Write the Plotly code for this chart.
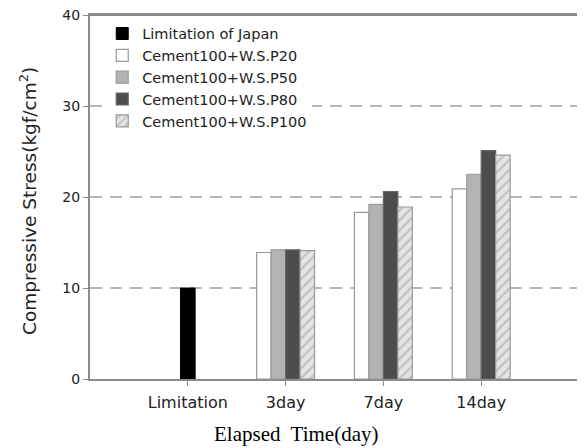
import plotly.graph_objects as go

categories = ["Limitation", "3day", "7day", "14day"]
limitation_japan = [10, None, None, None]
wsp20 = [None, 13.9, 18.3, 20.9]
wsp50 = [None, 14.2, 19.2, 22.5]
wsp80 = [None, 14.2, 20.6, 25.1]
wsp100 = [None, 14.1, 18.9, 24.6]
y_ticks = [0, 10, 20, 30, 40]

FONT = "DejaVu Sans"
W = 0.148
EDGE = "#9a9a9a"

fig = go.Figure()
fig.add_bar(x=categories, y=limitation_japan, name="Limitation of Japan",
            width=0.15, offset=-0.075,
            marker=dict(color="#000000", line=dict(color="#000000", width=1)))
fig.add_bar(x=categories, y=wsp20, name="Cement100+W.S.P20",
            width=W, offset=-2 * W,
            marker=dict(color="#ffffff", line=dict(color=EDGE, width=1.2)))
fig.add_bar(x=categories, y=wsp50, name="Cement100+W.S.P50",
            width=W, offset=-W,
            marker=dict(color="#b3b3b3", line=dict(color=EDGE, width=1.2)))
fig.add_bar(x=categories, y=wsp80, name="Cement100+W.S.P80",
            width=W, offset=0,
            marker=dict(color="#4d4d4d", line=dict(color="#666666", width=1.2)))
fig.add_bar(x=categories, y=wsp100, name="Cement100+W.S.P100",
            width=W, offset=W,
            marker=dict(color="#e0e0e0", line=dict(color=EDGE, width=1.2),
                        pattern=dict(shape="/", fgcolor="#9a9a9a", bgcolor="#e4e4e4",
                                     size=7, solidity=0.3)))

fig.update_layout(
    width=585, height=448,
    margin=dict(l=82, r=14, t=7, b=77),
    paper_bgcolor="white", plot_bgcolor="white",
    barmode="overlay",
    font=dict(family=FONT, color="#222222", size=14),
    showlegend=True,
    legend=dict(x=0.025, y=0.993, xanchor="left", yanchor="top",
                bgcolor="white", borderwidth=0,
                font=dict(family=FONT, size=14.5, color="#222222"),
                tracegroupgap=0, itemwidth=30),
    xaxis=dict(type="category", range=[-1, 4], showline=True, linecolor="#8c8c8c",
               linewidth=2, mirror=True, ticks="outside", ticklen=5, tickcolor="#8c8c8c",
               ticklabelstandoff=3, automargin=False, ticklabeloverflow="allow",
               tickfont=dict(family=FONT, size=16, color="#222222"), showgrid=False),
    yaxis=dict(range=[0, 40], tickvals=y_ticks, showline=True, linecolor="#8c8c8c",
               linewidth=2, mirror=True, ticks="outside", ticklen=5, tickcolor="#8c8c8c",
               tickfont=dict(family=FONT, size=14, color="#222222"), automargin=False,
               ticklabeloverflow="allow",
               showgrid=True, gridcolor="#b5b5b5", gridwidth=1.5, griddash="12px,8px",
               zeroline=False, layer="above traces"),
)

# plot frame top edge
fig.add_shape(type="line", xref="paper", yref="paper", x0=0, x1=1, y0=1, y1=1,
              line=dict(color="#8c8c8c", width=2), layer="above")

fig.add_annotation(text="Compressive Stress(kgf/cm<sup>2</sup>)", xref="paper", yref="paper",
                   x=-0.127, y=0.489, xanchor="center", yanchor="middle",
                   textangle=-90, showarrow=False,
                   font=dict(family=FONT, size=18.5, color="#222222"))
fig.add_annotation(text="Elapsed  Time(day)", xref="paper", yref="paper",
                   x=0.421, y=-0.152, xanchor="center", yanchor="middle", showarrow=False,
                   font=dict(family="Liberation Serif", size=21, color="#000000"))

fig.write_html("out.html")
